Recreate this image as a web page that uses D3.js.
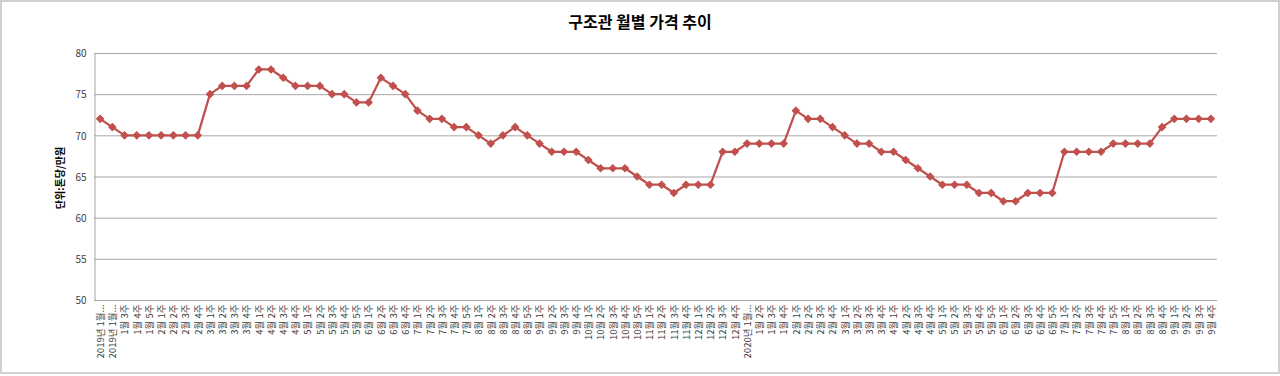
<!DOCTYPE html>
<html><head><meta charset="utf-8">
<script src="https://cdn.jsdelivr.net/npm/d3@7"></script>
<style>
html,body{margin:0;padding:0;background:#fff;}
svg{display:block;font-family:"Noto Sans CJK KR","Noto Sans",sans-serif;}
</style></head>
<body>
<script>
const title = "구조관 월별 가격 추이";
const yTitle = "단위:톤당/만원";
const yTicks = [50, 55, 60, 65, 70, 75, 80];
const categories = [
 "2019년 1월...","2019년 1월...","1월 3주","1월 4주","1월 5주",
 "2월 1주","2월 2주","2월 3주","2월 4주",
 "3월 1주","3월 2주","3월 3주","3월 4주",
 "4월 1주","4월 2주","4월 3주","4월 4주",
 "5월 1주","5월 2주","5월 3주","5월 4주","5월 5주",
 "6월 1주","6월 2주","6월 3주","6월 4주",
 "7월 1주","7월 2주","7월 3주","7월 4주","7월 5주",
 "8월 1주","8월 2주","8월 3주","8월 4주","8월 5주",
 "9월 1주","9월 2주","9월 3주","9월 4주",
 "10월 1주","10월 2주","10월 3주","10월 4주","10월 5주",
 "11월 1주","11월 2주","11월 3주","11월 4주",
 "12월 1주","12월 2주","12월 3주","12월 4주",
 "2020년 1월...","1월 2주","1월 3주","1월 4주",
 "2월 1주","2월 2주","2월 3주","2월 4주",
 "3월 1주","3월 2주","3월 3주","3월 4주",
 "4월 1주","4월 2주","4월 3주","4월 4주",
 "5월 1주","5월 2주","5월 3주","5월 4주","5월 5주",
 "6월 1주","6월 2주","6월 3주","6월 4주","6월 5주",
 "7월 1주","7월 2주","7월 3주","7월 4주","7월 5주",
 "8월 1주","8월 2주","8월 3주","8월 4주",
 "9월 1주","9월 2주","9월 3주","9월 4주"
];
const prices = [
 72,71,70,70,70,70,70,70,70,75,76,76,76,78,78,77,76,76,76,75,75,74,74,77,76,75,73,72,72,71,
 71,70,69,70,71,70,69,68,68,68,67,66,66,66,65,64,64,63,64,64,64,68,68,69,69,69,69,73,72,72,
 71,70,69,69,68,68,67,66,65,64,64,64,63,63,62,62,63,63,63,68,68,68,68,69,69,69,69,71,72,72,
 72,72
];

const W = 1280, H = 376;
const plot = {left: 94, right: 1217, top: 53, bottom: 300};
const FONT = '"Noto Sans CJK KR","Noto Sans",sans-serif';

const svg = d3.select("body").append("svg").attr("width", W).attr("height", H);

// outer frame
svg.append("rect").attr("x", 1).attr("y", 1).attr("width", W - 2).attr("height", H - 4)
  .attr("fill", "#fff").attr("stroke", "#d0d0d0").attr("stroke-width", 2);

const idx = categories.map((d, i) => i);
const x = d3.scalePoint().domain(idx).range([plot.left, plot.right]).padding(0.5);
const y = d3.scaleLinear().domain([50, 80]).range([plot.bottom, plot.top]);

// gridlines
svg.append("g").selectAll("line").data(yTicks.filter(t => t > 50)).join("line")
  .attr("x1", plot.left).attr("x2", plot.right)
  .attr("y1", d => y(d) + 0.5).attr("y2", d => y(d) + 0.5)
  .attr("stroke", "#a6a6a6").attr("stroke-width", 1);

// y axis
const yAxis = d3.axisLeft(y).tickValues(yTicks).tickSize(0).tickPadding(8);
const gy = svg.append("g").attr("transform", `translate(${plot.left + 0.5},0.5)`).call(yAxis)
  .attr("font-family", FONT);
gy.select(".domain").attr("stroke", "#a6a6a6");
gy.selectAll("text").attr("font-size", 10).attr("fill", "#404040");

// x axis
const xAxis = d3.axisBottom(x).tickSize(0).tickFormat(i => categories[i]);
const gx = svg.append("g").attr("transform", `translate(0,${plot.bottom + 0.5})`).call(xAxis)
  .attr("font-family", FONT);
gx.select(".domain").attr("stroke", "#a6a6a6").attr("d", `M${plot.left},0H${plot.right}`);
gx.selectAll("text")
  .attr("font-size", 9.5).attr("fill", "#404040")
  .attr("text-anchor", "end")
  .attr("transform", "rotate(-90)")
  .attr("x", -4).attr("y", 0).attr("dy", "0.35em");

// line
const line = d3.line().x((d, i) => x(i)).y(d => y(d));
svg.append("path").datum(prices).attr("d", line)
  .attr("fill", "none").attr("stroke", "#C0504D").attr("stroke-width", 2.25)
  .attr("stroke-linejoin", "round");

// markers (diamonds)
const sym = d3.symbol().type(d3.symbolSquare).size(26);
svg.append("g").selectAll("path").data(prices).join("path")
  .attr("d", sym)
  .attr("transform", (d, i) => `translate(${x(i)},${y(d)}) rotate(45)`)
  .attr("fill", "#C0504D").attr("stroke", "#C0504D").attr("stroke-width", 1);

// title
svg.append("text").attr("x", 640).attr("y", 28).attr("text-anchor", "middle")
  .attr("font-size", 16).attr("font-weight", "bold").attr("fill", "#000").text(title);

// y title
svg.append("text").attr("transform", `translate(64,178) rotate(-90)`)
  .attr("text-anchor", "middle").attr("font-size", 10).attr("font-weight", "bold")
  .attr("fill", "#000").text(yTitle);
</script>
</body></html>
